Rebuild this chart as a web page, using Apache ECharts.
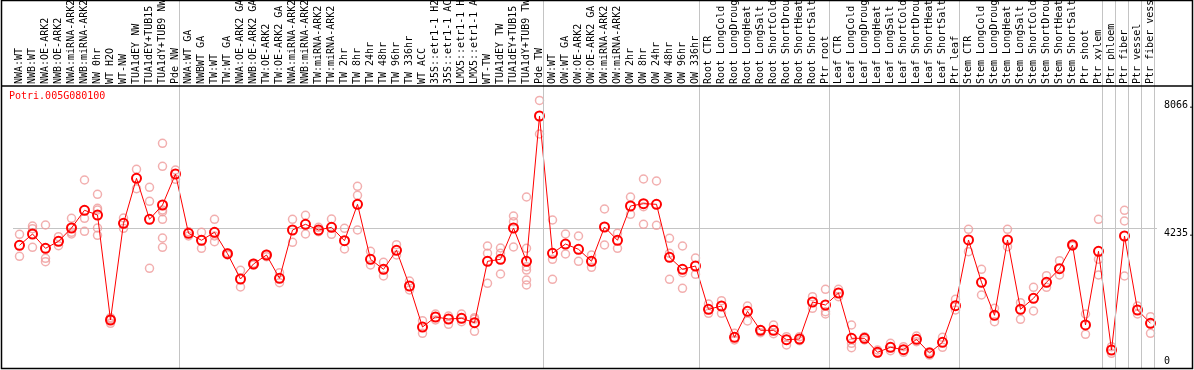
<!DOCTYPE html>
<html>
<head>
<meta charset="utf-8">
<script src="https://cdn.jsdelivr.net/npm/echarts@6/dist/echarts.min.js"></script>
<style>
html,body{margin:0;padding:0;background:#fff;}
#chart{width:1194px;height:370px;}
</style>
</head>
<body>
<div id="chart"></div>
<script>
const title = 'Potri.005G080100';

const categories = [
  'NWA:WT','NWB:WT','NWA:OE-ARK2','NWB:OE-ARK2','NWA:miRNA-ARK2','NWB:miRNA-ARK2','NW 0hr','WT H2O','WT-NW','TUA1dEY NW','TUA1dEY+TUB15 NW','TUA1dY+TUB9 NW','Pde NW',
  'NWA:WT GA','NWBWT GA','TW:WT','TW:WT GA','NWA:OE-ARK2 GA','NWB:OE-ARK2 GA','TW:OE-ARK2','TW:OE-ARK2 GA','NWA:miRNA-ARK2 GA','NWB:miRNA-ARK2 GA','TW:miRNA-ARK2','TW:miRNA-ARK2 GA','TW 2hr','TW 8hr','TW 24hr','TW 48hr','TW 96hr','TW 336hr','WT ACC','35S::etr1-1 H2O','35S::etr1-1 ACC','LMX5::etr1-1 H2O','LMX5::etr1-1 ACC','WT-TW','TUA1dEY TW','TUA1dEY+TUB15 TW','TUA1dY+TUB9 TW','Pde TW',
  'OW:WT','OW:WT GA','OW:OE-ARK2','OW:OE-ARK2 GA','OW:miRNA-ARK2','OW:miRNA-ARK2 GA','OW 2hr','OW 8hr','OW 24hr','OW 48hr','OW 96hr','OW 336hr',
  'Root CTR','Root LongCold','Root LongDrought','Root LongHeat','Root LongSalt','Root ShortCold','Root ShortDrought','Root ShortHeat','Root ShortSalt','Ptr root',
  'Leaf CTR','Leaf LongCold','Leaf LongDrought','Leaf LongHeat','Leaf LongSalt','Leaf ShortCold','Leaf ShortDrought','Leaf ShortHeat','Leaf ShortSalt','Ptr leaf',
  'Stem CTR','Stem LongCold','Stem LongDrought','Stem LongHeat','Stem LongSalt','Stem ShortCold','Stem ShortDrought','Stem ShortHeat','Stem ShortSalt','Ptr shoot','Ptr xylem',
  'Ptr phloem','Ptr fiber','Ptr vessel','Ptr fiber vessel'
];

const means = [
  3715,4055,3625,3835,4235,4767,4625,1472,4376,5728,4496,4926,5857,
  4076,3866,4106,3463,2703,3154,3424,2724,4175,4346,4175,4256,3853,4947,3295,2994,3565,2493,1261,1562,1502,1523,1391,3235,3295,4235,3235,7599,
  3475,3754,3595,3235,4265,3866,4896,4965,4947,3355,2994,3094,
  1793,1892,952,1733,1162,1162,880,901,2012,1922,
  2283,922,922,502,652,580,892,481,802,1901,
  3875,2604,1613,3875,1793,2123,2604,3013,3724,1322,3535,
  571,3995,1772,1373
];

const replicates = [
  [4046,3385],[4295,4215,3655],[4325,3325,3223],[3974,3703],[4526,4106,4055],[5677,4526,4136],[5247,4827,4776,4235,4016],
  [1541,1502,1373],[4535,4226],[5998,5415],[5457,5037,3025],[6779,6088,4776,4725,4496,3935,3655],[5977,5698],
  [4124,3995],[4106,3625],[4496,3995,3823],[3493,3424],[2964,2463],[3174,3124],[3445,3373],[2892,2592],[4496,3805],
  [4616,4055],[4256,4124],[4505,4046],[4226,3604],[5487,5217,4175],[3535,3124],[3205,2793],[3733,3424],[2643,2373],
  [1451,1072],[1652,1472],[1592,1343],[1652,1421],[1541,1501,1132],[3694,3475,2574],[3634,3475,2853],[4595,4424,3664],
  [5166,3625,3073,2973,2673,2523],[8066,7058],
  [4475,3295,2694],[4055,3454],[3995,3235],[3424,3055],[4806,3724],[4076,3625],[5166,4646],[5707,4875,4346],[5647,4316],
  [3926,3475,2694],[3694,2892,2424],[3334,2844],
  [1952,1673],[2051,1673],[1072,871],[1892,1442],[1171,1091],[1322,1061],[970,721],[970,850],[2172,1823],[2394,1721,1652],
  [2394,2172],[1322,772,640],[970,871],[571,472],[772,550],[670,502],[991,820],[520,420],[952,652],[2093,1772],
  [4196,3523],[2994,2223],[1823,1421],[4196,3673],[1991,1493],[2454,1742],[2802,2454],[3253,2823],[3754,3694],[1652,1042],[4496,3295,2823],
  [670,472],[4767,4445,2793],[1892,1652],[1571,1072]
];

const yTopLabels = [8066, 4235];
const yBottomLabels = [0];
const midLineValue = 4235;
const yMax = 8470;
// group separators: index of first category of each group (plus the end)
const groupBounds = [0, 13, 41, 53, 63, 73, 84, 85, 86, 87, 88];

const repPoints = [];
replicates.forEach((arr, i) => arr.forEach(v => repPoints.push([i, v])));

const MONO = '"DejaVu Sans Mono", "Liberation Mono", monospace';

const chart = echarts.init(document.getElementById('chart'), null, {renderer: 'canvas'});
chart.setOption({
  animation: false,
  backgroundColor: '#ffffff',
  title: {
    text: title, left: 4, top: 86,
    textStyle: {color: '#ff0000', fontSize: 10, fontWeight: 'normal', fontFamily: MONO}
  },
  grid: [
    {left: 13, width: 1144, top: 87, height: 282, containLabel: false, outerBoundsMode: 'none'},
    {left: 13, width: 1144, top: 0, height: 369, containLabel: false, outerBoundsMode: 'none'}
  ],
  xAxis: [
    {
      type: 'category', gridIndex: 0, data: categories, position: 'top', boundaryGap: true,
      axisLine: {show: false}, axisTick: {show: false}, splitLine: {show: false},
      axisLabel: {interval: 0, rotate: 90, margin: 3, hideOverlap: false, color: '#000', fontSize: 10, fontFamily: MONO}
    },
    {type: 'value', gridIndex: 1, min: -0.5, max: 87.5, show: false}
  ],
  yAxis: [
    {
      type: 'value', gridIndex: 0, min: 0, max: yMax, position: 'right',
      axisLine: {show: false}, axisTick: {show: false}, splitLine: {show: false},
      axisLabel: {customValues: yTopLabels, formatter: v => v + '.', margin: 7, verticalAlign: 'top',
        color: '#000', fontSize: 10, fontFamily: MONO}
    },
    {
      type: 'value', gridIndex: 0, min: 0, max: yMax, position: 'right',
      axisLine: {show: false}, axisTick: {show: false}, splitLine: {show: false},
      axisLabel: {customValues: yBottomLabels, formatter: v => String(v), margin: 7, verticalAlign: 'bottom',
        padding: [0, 0, 3, 0], color: '#000', fontSize: 10, fontFamily: MONO}
    },
    {type: 'value', gridIndex: 1, min: 0, max: 1, show: false}
  ],
  graphic: [
    {type: 'rect', z: 100, silent: true,
      shape: {x: 1.5, y: 0.5, width: 1191, height: 368},
      style: {fill: 'none', stroke: '#000', lineWidth: 1.5}},
    {type: 'line', z: 100, silent: true,
      shape: {x1: 1.5, y1: 86, x2: 1192.5, y2: 86},
      style: {stroke: '#000', lineWidth: 1.5}}
  ],
  series: [
    {
      type: 'scatter', xAxisIndex: 1, yAxisIndex: 2, data: [], z: 1, silent: true,
      markLine: {
        silent: true, symbol: 'none', label: {show: false},
        lineStyle: {color: '#c4c4c4', width: 1, type: 'solid'},
        data: groupBounds.map(b => ({xAxis: b - 0.69}))
      }
    },
    {
      type: 'scatter', xAxisIndex: 0, yAxisIndex: 0, data: repPoints, z: 3, silent: true,
      symbol: 'circle', symbolSize: 8,
      itemStyle: {color: 'rgba(0,0,0,0)', borderColor: '#ef9b9b', borderWidth: 1.5}
    },
    {
      type: 'line', xAxisIndex: 0, yAxisIndex: 0, data: means, z: 4, silent: true,
      symbol: 'circle', symbolSize: 9, showAllSymbol: true,
      lineStyle: {color: '#ff0000', width: 1},
      itemStyle: {color: 'rgba(0,0,0,0)', borderColor: '#ff0000', borderWidth: 2},
      markLine: {
        silent: true, symbol: 'none', label: {show: false}, z: 1,
        lineStyle: {color: '#c4c4c4', width: 1, type: 'solid'},
        data: [{yAxis: midLineValue}]
      }
    }
  ]
});
</script>
</body>
</html>
